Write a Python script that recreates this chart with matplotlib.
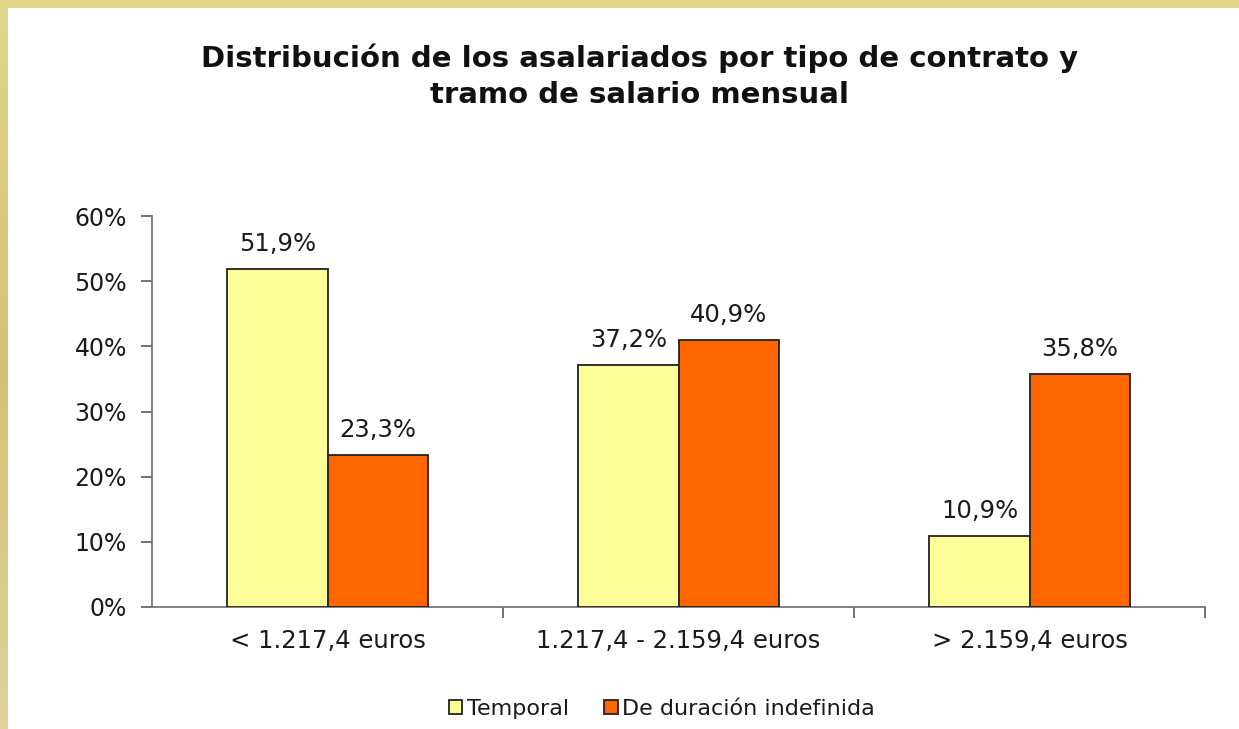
import numpy as np
import matplotlib.pyplot as plt
from matplotlib.colors import LinearSegmentedColormap
from matplotlib.patches import Patch, Rectangle

categorias = ['< 1.217,4 euros', '1.217,4 - 2.159,4 euros', '> 2.159,4 euros']
temporal = [51.9, 37.2, 10.9]
indefinida = [23.3, 40.9, 35.8]
series = ['Temporal', 'De duración indefinida']
colores = ['#FFFF99', '#FF6600']

plt.rcParams['font.family'] = ['DejaVu Sans']

fig = plt.figure(figsize=(12.39, 7.29), dpi=100)
ax = fig.add_axes([152 / 1239, 1 - 607 / 729, (1205 - 152) / 1239, (607 - 216) / 729])

x = np.arange(len(categorias))
w = 0.285
b1 = ax.bar(x - w / 2, temporal, w, color=colores[0], edgecolor='#222222', linewidth=1.3, zorder=3)
b2 = ax.bar(x + w / 2, indefinida, w, color=colores[1], edgecolor='#222222', linewidth=1.3, zorder=3)

for bars, vals in ((b1, temporal), (b2, indefinida)):
    for r, v in zip(bars, vals):
        ax.text(r.get_x() + r.get_width() / 2, v + 2.0, f'{v:.1f}%'.replace('.', ','),
                ha='center', va='bottom', fontsize=17.5, color='#1a1a1a')

ax.set_ylim(0, 60)
ax.set_xlim(-0.5, 2.5)
ax.set_yticks(np.arange(0, 61, 10))
ax.set_yticklabels([f'{v}%' for v in range(0, 61, 10)])
ax.set_xticks(x)
ax.set_xticklabels(categorias)
ax.set_xticks([0.5, 1.5, 2.5], minor=True)
ax.tick_params(axis='y', labelsize=17, length=8, width=1.3, color='#666666', pad=10, labelcolor='#1a1a1a')
ax.tick_params(axis='x', which='major', labelsize=17.5, length=0, pad=16, labelcolor='#1a1a1a')
ax.tick_params(axis='x', which='minor', length=8, width=1.3, color='#666666')
for s in ('top', 'right'):
    ax.spines[s].set_visible(False)
for s in ('left', 'bottom'):
    ax.spines[s].set_color('#777777')
    ax.spines[s].set_linewidth(1.3)

fig.text(640 / 1239, 1 - 76 / 729, 'Distribución de los asalariados por tipo de contrato y\ntramo de salario mensual',
         ha='center', va='center', fontsize=21, fontweight='bold', linespacing=1.37, color='#111111')

handles = [Patch(facecolor=c, edgecolor='#222222', linewidth=1.3) for c in colores]
fig.legend(handles, series, loc='center', bbox_to_anchor=(662 / 1239, 1 - 709 / 729), ncol=2,
           frameon=False, fontsize=16, handlelength=0.6, handleheight=0.6, handletextpad=0.2,
           columnspacing=1.6, labelcolor='#1a1a1a')

# marco dorado
fig.patches.append(Rectangle((0, 1 - 8 / 729), 1, 8 / 729, transform=fig.transFigure,
                             facecolor='#E3D589', edgecolor='none'))
oro = LinearSegmentedColormap.from_list('oro', ['#E3D589', '#D6C172', '#E0D39A'])
borde = fig.add_axes([0, 0, 8 / 1239, 1 - 8 / 729])
borde.imshow(np.linspace(0, 1, 100).reshape(-1, 1), aspect='auto', cmap=oro)
borde.axis('off')

fig.savefig('out.png', dpi=100)
